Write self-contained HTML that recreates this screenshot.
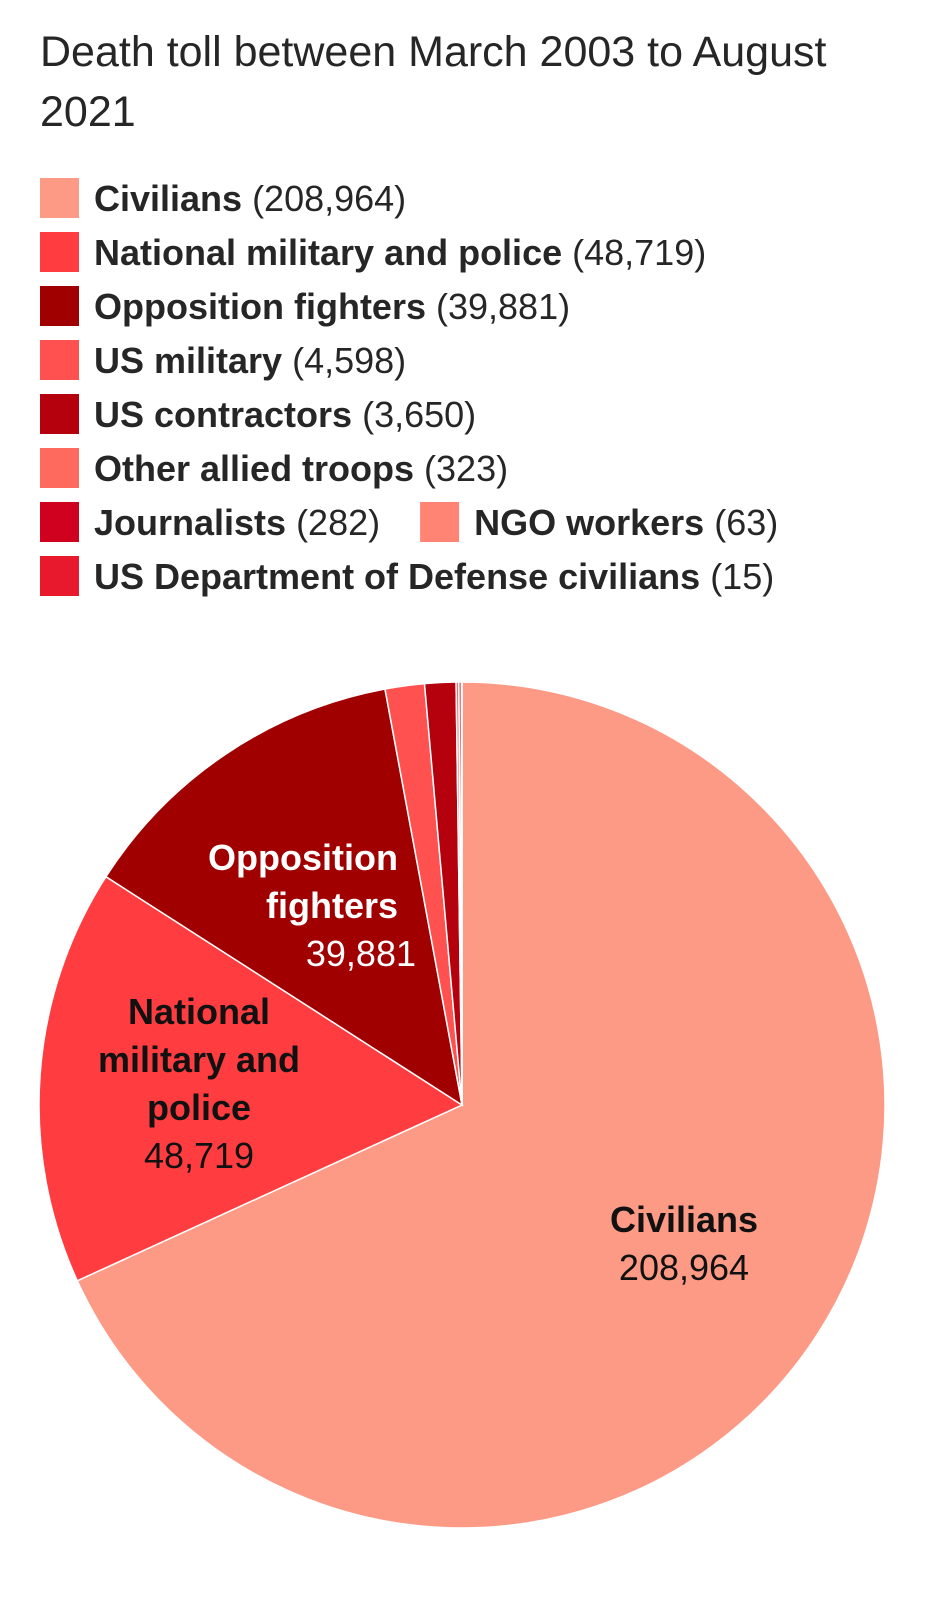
<!DOCTYPE html>
<html><head><meta charset="utf-8"><style>
html,body{margin:0;padding:0;background:#fff;}
svg{display:block;font-family:"Liberation Sans",sans-serif;}
</style></head><body>
<svg id="chart" width="948" height="1602" viewBox="0 0 948 1602">
<text x="40" y="66" font-size="43" fill="#262626">Death toll between March 2003 to August</text>
<text x="40" y="126" font-size="43" fill="#262626">2021</text>
<g id="legend"></g>
<g id="pie"></g>
<g id="labels"></g>
</svg>
<script>
const categories=["Civilians","National military and police","Opposition fighters","US military","US contractors","Other allied troops","Journalists","NGO workers","US Department of Defense civilians"];
const values=[208964,48719,39881,4598,3650,323,282,63,15];
const valueLabels=["208,964","48,719","39,881","4,598","3,650","323","282","63","15"];
const colors=["#fd9a86","#ff3d40","#a00000","#ff5150","#b5000e","#ff6a5e","#d0001f","#ff8473","#e8192c"];
const NS="http://www.w3.org/2000/svg";
function mk(t,a,p){const e=document.createElementNS(NS,t);for(const k in a)e.setAttribute(k,a[k]);p.appendChild(e);return e;}
const leg=document.getElementById('legend');
const rows=[[0],[1],[2],[3],[4],[5],[6,7],[8]];
rows.forEach((r,ri)=>{
  let x=40;const y=178+ri*54;
  r.forEach(i=>{
    const sw=mk('rect',{x:x,y:y,width:39,height:40,fill:colors[i]},leg);
    
    
    const t=mk('text',{x:x+54,y:y+33,'font-size':36,fill:'#262626'},leg);
    
    
    const b=mk('tspan',{'font-weight':'bold'},t);b.textContent=categories[i];
    const v=mk('tspan',{},t);v.textContent=' ('+valueLabels[i]+')';
    x+=54+t.getComputedTextLength()+40;
  });
});
const cx=462,cy=1105,R=423;
const total=values.reduce((a,b)=>a+b,0);
const pie=document.getElementById('pie');
let a0=0;
function pt(a,r){return [cx+r*Math.sin(a),cy-r*Math.cos(a)];}
values.forEach((v,i)=>{
  const a1=a0+v/total*2*Math.PI;
  const p0=pt(a0,R),p1=pt(a1,R);
  const large=(a1-a0)>Math.PI?1:0;
  const s=mk('path',{d:`M${cx},${cy}L${p0[0]},${p0[1]}A${R},${R} 0 ${large} 1 ${p1[0]},${p1[1]}Z`,fill:colors[i],stroke:'#fff','stroke-width':1.5},pie);
  
  
  a0=a1;
});
const lab=document.getElementById('labels');
function lbl(lines,x,y,fill,name){
  const t=mk('text',{x:x,y:y,'font-size':36,fill:fill,'text-anchor':'middle'},lab);
  
  
  lines.forEach((l,k)=>{const s=mk('tspan',{x:x,dy:k?48:0,'font-weight':l[1]?'bold':'normal'},t);s.textContent=l[0];});
}
lbl([["Civilians",1],[valueLabels[0],0]],684,1232,'#111','label-civilians');
lbl([["National",1],["military and",1],["police",1],[valueLabels[1],0]],199,1024,'#111','label-national-military');
lbl([["Opposition",1],["fighters",1],[valueLabels[2],0]],298,870,'#fff','label-opposition');
const t2=lab.lastChild;t2.setAttribute('text-anchor','end');[...t2.children].forEach(s=>s.setAttribute('x',398));t2.children[2].setAttribute('x',416);
</script>
</body></html>
